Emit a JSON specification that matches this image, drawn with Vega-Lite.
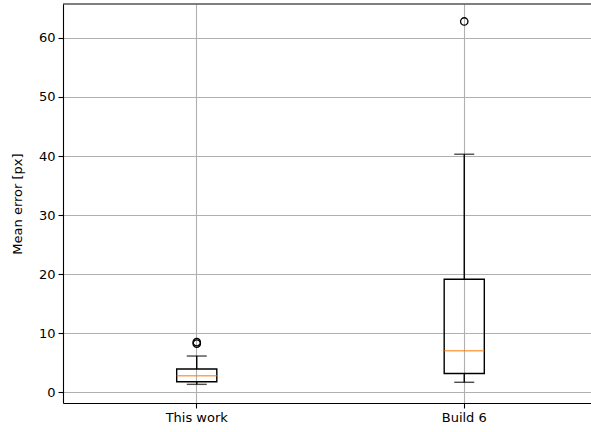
{
  "$schema": "https://vega.github.io/schema/vega-lite/v6.json",
  "width": 528,
  "height": 399,
  "autosize": {"type": "none"},
  "padding": {"left": 63, "top": 4, "right": 0, "bottom": 29},
  "background": "white",
  "config": {
    "font": "DejaVu Sans",
    "view": {"stroke": null},
    "axis": {
      "labelFont": "DejaVu Sans",
      "titleFont": "DejaVu Sans",
      "labelFontSize": 13,
      "titleFontSize": 13,
      "titleFontWeight": "normal",
      "labelColor": "#000000",
      "titleColor": "#000000",
      "domainColor": "#000000",
      "domainWidth": 1.1,
      "tickColor": "#000000",
      "tickWidth": 1.1,
      "tickSize": 5,
      "gridColor": "#b0b0b0",
      "gridWidth": 1.1,
      "gridOpacity": 1
    }
  },
  "datasets": {
    "stats": [
      {"group": "This work", "low": 1.3, "q1": 1.75, "median": 2.75, "q3": 3.9, "high": 6.1},
      {"group": "Build 6", "low": 1.65, "q1": 3.15, "median": 7.0, "q3": 19.1, "high": 40.3}
    ],
    "outliers": [
      {"group": "This work", "value": 8.2},
      {"group": "This work", "value": 8.45},
      {"group": "Build 6", "value": 62.8}
    ]
  },
  "layer": [
    {
      "encoding": {
        "x": {
          "field": "group",
          "type": "nominal",
          "sort": ["This work", "Build 6"],
          "scale": {"type": "band", "domain": ["This work", "Build 6"], "range": [0, 535], "paddingInner": 0.85, "paddingOuter": 0.425},
          "axis": {"title": null, "labelAngle": 0, "labelPadding": 3, "grid": true, "bandPosition": 0.5, "domain": true}
        }
      },
      "layer": [
        {
          "data": {"name": "stats"},
          "mark": {"type": "rule", "color": "#000000", "strokeWidth": 1.4},
          "encoding": {
            "y": {
              "field": "q3",
              "type": "quantitative",
              "scale": {"domain": [-1.86, 65.76], "nice": false, "zero": false},
              "axis": {"title": "Mean error [px]", "values": [0, 10, 20, 30, 40, 50, 60], "grid": true, "titlePadding": 14, "labelPadding": 3}
            },
            "y2": {"field": "high"}
          }
        },
        {
          "data": {"name": "stats"},
          "mark": {"type": "rule", "color": "#000000", "strokeWidth": 1.4},
          "encoding": {
            "y": {"field": "low", "type": "quantitative"},
            "y2": {"field": "q1"}
          }
        },
        {
          "data": {"name": "stats"},
          "mark": {"type": "bar", "fill": null, "fillOpacity": 0, "stroke": "#000000", "strokeWidth": 1.4},
          "encoding": {
            "y": {"field": "q1", "type": "quantitative"},
            "y2": {"field": "q3"}
          }
        },
        {
          "data": {"name": "stats"},
          "mark": {"type": "tick", "color": "#000000", "size": 20, "thickness": 1.4, "orient": "horizontal"},
          "encoding": {"y": {"field": "high", "type": "quantitative"}}
        },
        {
          "data": {"name": "stats"},
          "mark": {"type": "tick", "color": "#000000", "size": 20, "thickness": 1.4, "orient": "horizontal"},
          "encoding": {"y": {"field": "low", "type": "quantitative"}}
        },
        {
          "data": {"name": "stats"},
          "mark": {"type": "tick", "color": "#ff7f0e", "size": 40, "thickness": 1.5, "orient": "horizontal"},
          "encoding": {"y": {"field": "median", "type": "quantitative"}}
        },
        {
          "data": {"name": "outliers"},
          "mark": {"type": "point", "shape": "circle", "filled": false, "stroke": "#000000", "strokeWidth": 1.3, "size": 55, "opacity": 1},
          "encoding": {"y": {"field": "value", "type": "quantitative"}}
        }
      ]
    },
    {
      "data": {"values": [{"edge": "top"}]},
      "mark": {"type": "rule", "color": "#000000", "strokeWidth": 1.1},
      "encoding": {
        "y": {"datum": 65.76, "type": "quantitative"}
      }
    }
  ]
}
